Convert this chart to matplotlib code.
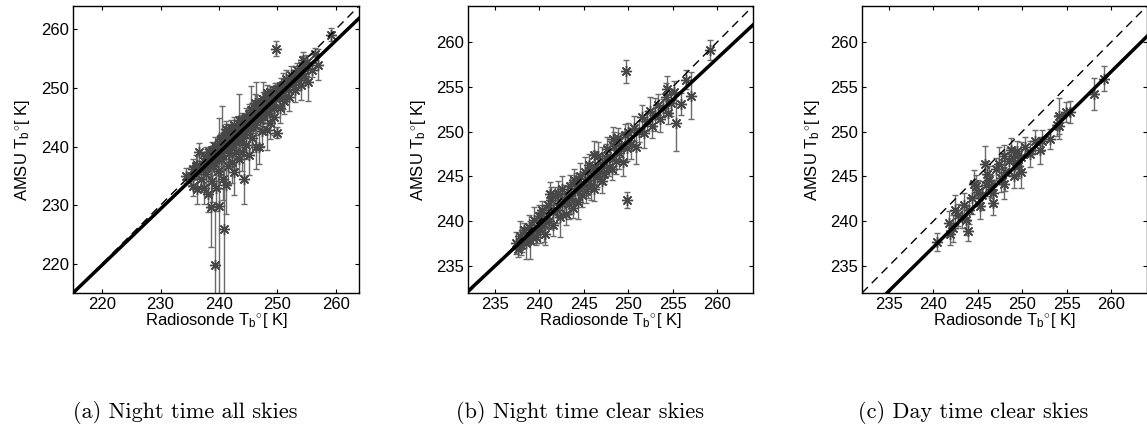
import matplotlib
matplotlib.use('Agg')
import matplotlib.pyplot as plt
import numpy as np

plt.rcParams['font.family'] = ['Liberation Sans', 'DejaVu Sans']
plt.rcParams['mathtext.fontset'] = 'custom'
plt.rcParams['mathtext.rm'] = 'Liberation Sans'
plt.rcParams['mathtext.it'] = 'Liberation Sans:italic'

# --- panel (b): night time, clear skies ---
b_x = [237.4, 237.6, 237.8, 238.0, 238.1, 238.3, 238.5, 238.7, 238.9, 239.0,
       239.2, 239.4, 239.6, 239.8, 240.0, 240.1, 240.3, 240.5, 240.6, 240.8,
       241.0, 241.1, 241.3, 241.5, 241.6, 241.8, 242.0, 242.1, 242.3, 242.5,
       242.6, 242.8, 243.0, 243.1, 243.3, 243.5, 243.6, 243.8, 244.0, 244.1,
       244.3, 244.5, 244.6, 244.8, 245.0, 245.1, 245.3, 245.5, 245.6, 245.8,
       246.0, 246.1, 246.3, 246.5, 246.6, 246.8, 247.0, 247.1, 247.3, 247.5,
       247.6, 247.8, 248.0, 248.2, 248.4, 248.6, 248.8, 249.0, 249.2, 249.4,
       249.6, 249.8, 250.0, 250.3, 250.6, 250.9, 251.2, 251.5, 251.8, 252.1,
       252.4, 252.7, 253.0, 253.3, 253.6, 253.9, 254.2, 254.5, 254.8, 255.1,
       255.3, 256.5, 257.0, 259.2, 249.7, 249.9, 241.2, 243.9, 246.2, 248.3,
       255.9, 254.4]
b_y = [237.6, 236.9, 238.4, 237.3, 238.0, 239.0, 237.6, 238.3, 239.4, 237.9,
       238.6, 240.1, 238.2, 239.3, 240.6, 239.0, 241.3, 239.7, 238.6, 240.4,
       241.8, 240.0, 242.4, 241.0, 239.6, 242.8, 241.3, 243.2, 240.5, 241.9,
       243.6, 242.3, 240.8, 243.0, 241.9, 243.9, 242.6, 241.5, 243.4, 244.4,
       242.1, 243.7, 245.0, 242.9, 244.2, 245.5, 243.4, 244.6, 246.3, 244.0,
       245.2, 243.6, 246.0, 244.9, 247.3, 245.6, 244.5, 246.4, 245.3, 247.0,
       248.1, 246.0, 247.2, 245.8, 248.4, 246.7, 249.3, 247.6, 248.5, 246.6,
       249.6, 248.2, 249.9, 248.6, 250.4, 248.3, 250.0, 251.6, 249.8, 251.2,
       252.3, 250.6, 251.9, 253.0, 251.4, 252.6, 253.8, 252.1, 253.2, 254.4,
       251.0, 255.8, 254.0, 259.1, 256.7, 242.4, 243.0, 244.6, 247.4, 249.2,
       253.1, 254.8]
b_err = [1.2, 0.9, 1.6, 1.1, 1.4, 0.8, 1.8, 1.0, 1.3, 2.1,
         1.1, 1.5, 0.9, 1.7, 1.2, 1.4, 1.0, 2.0, 1.3, 1.1,
         1.6, 0.9, 1.4, 1.8, 1.2, 1.0, 1.5, 1.3, 2.2, 1.1,
         1.4, 1.7, 1.2, 0.9, 1.6, 1.3, 1.8, 1.1, 1.4, 1.0,
         1.9, 1.2, 1.5, 1.3, 1.1, 1.7, 1.4, 2.0, 1.2, 1.6,
         1.0, 1.3, 1.8, 1.1, 1.5, 1.2, 1.4, 1.9, 1.1, 1.6,
         1.3, 1.0, 1.7, 1.2, 1.5, 1.4, 1.1, 1.8, 1.3, 1.6,
         1.2, 1.5, 1.0, 1.7, 1.3, 1.9, 1.2, 1.4, 1.6, 1.1,
         1.5, 1.3, 1.8, 1.2, 1.4, 1.0, 1.6, 1.3, 1.5, 1.2,
         3.2, 1.1, 2.6, 1.1, 1.3, 0.9, 1.4, 1.2, 1.6, 1.3,
         1.2, 1.4]

# --- extra night time points with clouds, only in panel (a) ---
a_extra_x = [235.2, 235.6, 236.0, 236.3, 236.6, 236.9, 237.2, 237.5, 237.8, 238.1,
             238.4, 238.6, 238.9, 239.2, 239.3, 239.5, 239.8, 240.1, 240.4, 240.7,
             240.9, 241.2, 241.5, 241.8, 242.2, 242.6, 243.0, 243.4, 243.9, 244.3,
             244.7, 245.2, 245.7, 246.3, 246.8, 247.4, 248.2, 248.8, 249.5, 250.4,
             251.2, 252.0, 253.0, 254.1, 244.0, 242.0, 240.0, 238.0, 236.3, 235.5,
             247.5, 251.0, 249.0, 245.5, 243.5, 241.5, 240.5, 243.5, 245.5, 246.3,
             247.5, 234.4]
a_extra_y = [235.0, 233.3, 236.6, 232.7, 239.1, 234.5, 236.0, 233.0, 235.3, 231.9,
             236.7, 229.6, 234.1, 237.2, 219.8, 233.0, 235.8, 229.8, 237.8, 234.4,
             225.9, 233.5, 236.6, 238.9, 237.3, 235.7, 239.1, 237.9, 239.0, 234.4,
             240.3, 238.6, 241.5, 240.0, 240.0, 242.6, 242.9, 244.1, 245.0, 246.6,
             247.7, 248.4, 249.6, 250.5, 242.0, 240.5, 238.6, 237.8, 236.9, 236.2,
             245.5, 250.5, 247.8, 243.5, 241.0, 239.8, 241.5, 244.5, 246.3, 246.5,
             247.6, 235.0]
a_extra_err = [1.5, 1.8, 2.0, 2.5, 1.5, 2.2, 3.0, 2.8, 2.0, 3.0,
               2.5, 6.8, 3.5, 2.0, 9.5, 4.0, 3.0, 15.0, 2.2, 3.5,
               12.0, 5.0, 3.0, 2.5, 3.5, 4.0, 3.0, 2.8, 3.2, 4.2,
               2.5, 3.5, 2.5, 3.8, 3.0, 2.5, 3.5, 2.8, 3.0, 2.5,
               2.2, 2.4, 2.0, 2.5, 2.0, 2.2, 2.0, 1.8, 1.6, 1.7,
               2.0, 2.0, 2.0, 2.0, 2.0, 2.0, 5.5, 4.5, 4.0, 4.5,
               3.5, 1.3]

# --- panel (c): day time, clear skies ---
c_x = [240.4, 241.8, 242.2, 242.8, 243.5, 243.7, 243.9, 244.4, 245.0, 245.2,
       245.8, 245.9, 246.3, 246.7, 246.7, 247.4, 247.6, 248.0, 248.1, 248.9,
       249.1, 249.4, 249.8, 249.8, 250.3, 250.9, 251.4, 252.0, 252.2, 253.1,
       254.1, 253.9, 254.1, 254.9, 255.3, 258.1, 259.2, 244.0, 244.8, 245.5,
       246.0, 247.0, 248.5, 243.2, 242.5, 247.9, 249.5, 246.5, 244.6, 241.9,
       248.7]
c_y = [237.7, 239.8, 239.2, 240.7, 241.8, 240.1, 238.9, 242.6, 243.3, 241.7,
       246.4, 244.0, 244.6, 243.1, 242.0, 246.4, 244.8, 244.2, 245.5, 247.0,
       245.1, 247.8, 247.2, 245.5, 248.3, 247.5, 248.9, 247.9, 249.0, 249.2,
       251.7, 250.7, 250.6, 252.2, 252.2, 254.2, 255.9, 241.2, 243.9, 242.9,
       245.3, 245.8, 246.7, 240.5, 241.3, 247.3, 246.2, 243.9, 244.2, 238.6,
       248.0]
c_err = [1.0, 1.3, 1.5, 1.2, 1.4, 1.6, 1.1, 1.8, 1.3, 1.5,
         2.0, 1.2, 1.6, 1.4, 1.3, 1.9, 1.5, 1.7, 2.1, 1.3,
         1.4, 1.2, 1.6, 1.8, 1.1, 1.4, 1.3, 1.5, 1.2, 1.1,
         2.0, 1.2, 1.4, 1.1, 1.2, 1.8, 1.4, 1.5, 1.3, 1.6,
         1.4, 1.2, 1.5, 1.3, 1.6, 1.2, 1.4, 1.3, 1.5, 1.2,
         1.3]

a_x = b_x + a_extra_x
a_y = b_y + a_extra_y
a_err = b_err + a_extra_err

# regression line (slope, intercept) per panel
fit_a = (0.957, 9.24)
fit_b = (0.928, 16.9)
fit_c = (0.98, 1.9)

lims_a = (215, 264)
lims_bc = (232, 264)
ticks_a = [220, 230, 240, 250, 260]
ticks_bc = [235, 240, 245, 250, 255, 260]
captions = ['(a) Night time all skies', '(b) Night time clear skies', '(c) Day time clear skies']

fig = plt.figure(figsize=(11.47, 4.28), dpi=100)

panels = [
    ([0.0636, 0.3154, 0.2494, 0.6706], a_x, a_y, a_err, fit_a, lims_a, ticks_a),
    ([0.4080, 0.3154, 0.2485, 0.6706], b_x, b_y, b_err, fit_b, lims_bc, ticks_bc),
    ([0.7515, 0.3154, 0.2485, 0.6706], c_x, c_y, c_err, fit_c, lims_bc, ticks_bc),
]
cap_x = [185 / 1147, 580 / 1147, 973 / 1147]

for i, (pos, x, y, err, fit, lims, ticks) in enumerate(panels):
    ax = fig.add_axes(pos)
    ax.errorbar(x, y, yerr=err, fmt='none', ecolor='#6a6a6a', elinewidth=1.0,
                capsize=2.4, capthick=1.0, zorder=2)
    ax.plot(x, y, linestyle='none', marker=(8, 2, 0), markersize=8,
            markeredgewidth=1.0, color='#474747', zorder=3)
    xl = np.array(lims)
    ax.plot(xl, xl, color='black', linestyle='--', dashes=(6, 4), lw=1.0, zorder=4)
    ax.plot(xl, fit[0] * xl + fit[1], color='black', lw=2.5, zorder=5)
    ax.set_xlim(lims)
    ax.set_ylim(lims)
    ax.set_xticks(ticks)
    ax.set_yticks(ticks)
    ax.tick_params(direction='in', top=True, right=True, length=3, width=0.8,
                   labelsize=12, pad=3)
    for s in ax.spines.values():
        s.set_linewidth(1.0)
    ax.set_xlabel(r'Radiosonde T$_{\rm b}$$^{\circ}$[ K]', fontsize=12, labelpad=-1)
    ax.set_ylabel(r'AMSU T$_{\rm b}$$^{\circ}$[ K]', fontsize=12, labelpad=6)
    fig.text(cap_x[i], (428 - 413) / 428, captions[i], ha='center', va='center',
             fontsize=16, family='cmr10')

fig.savefig('out.png', dpi=100)
